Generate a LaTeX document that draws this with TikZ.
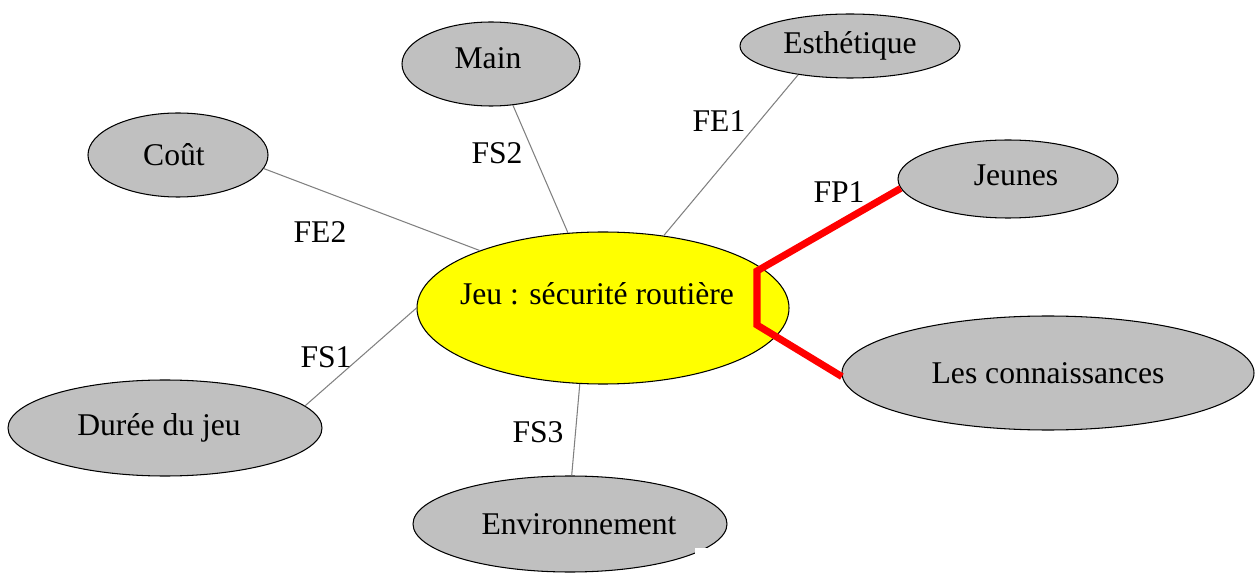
\documentclass[tikz,border=0pt]{standalone}
\usepackage{fontspec}
\setmainfont{Liberation Serif}
\usetikzlibrary{shapes.geometric}
\definecolor{bubble}{RGB}{192,192,192}
\definecolor{hub}{RGB}{255,255,0}
\definecolor{link}{RGB}{128,128,128}
\definecolor{mainlink}{RGB}{255,0,0}
% offset a text inside its ellipse without changing the ellipse size
\newcommand\nudge[3]{\raisebox{#2}[\height][\depth]{\makebox[0pt]{\hspace*{#1}#3\hspace*{-#1}}}}
\tikzset{
  bubble/.style={ellipse, draw=black, line width=0.6pt, fill=bubble, inner sep=0pt,
    font=\fontsize{18pt}{20pt}\selectfont},
  hubnode/.style={bubble, fill=hub},
  tag/.style={font=\fontsize{18pt}{20pt}\selectfont, inner sep=0pt},
  link/.style={draw=link, line width=0.6pt},
  mainlink/.style={draw=mainlink, line width=4pt}
}
\begin{document}
\begin{tikzpicture}[x=0.02cm, y=-0.02cm]
\useasboundingbox (0,0) rectangle (1255,574);

% central function and surrounding elements
\node[hubnode, minimum width=372*0.02cm, minimum height=152*0.02cm] (jeu) at (603,308) {\nudge{-0.12cm}{0.28cm}{Jeu : sécurité routière}};
\node[bubble, minimum width=178*0.02cm, minimum height=84*0.02cm] (main) at (491,64) {\nudge{-0.06cm}{0.12cm}{Main}};
\node[bubble, minimum width=220*0.02cm, minimum height=64*0.02cm] (esth) at (850,46) {Esthétique};
\node[bubble, minimum width=180*0.02cm, minimum height=84*0.02cm] (cout) at (178,155) {\nudge{-0.08cm}{0cm}{Coût}};
\node[bubble, minimum width=220*0.02cm, minimum height=78*0.02cm] (jeunes) at (1008,179) {\nudge{0.16cm}{0.08cm}{Jeunes}};
\node[bubble, minimum width=412*0.02cm, minimum height=114*0.02cm] (conn) at (1048,373) {Les connaissances};
\node[bubble, minimum width=314*0.02cm, minimum height=96*0.02cm] (duree) at (165,428) {\nudge{-0.12cm}{0cm}{Durée du jeu}};
\node[bubble, minimum width=314*0.02cm, minimum height=96*0.02cm] (env) at (570,524) {\nudge{0.18cm}{0cm}{Environnement}};
\fill[white] (695,548) rectangle (707,574);

% secondary links
\draw[link] (main.-62) -- (jeu.115);
\draw[link] (esth.209) -- (jeu.50);
\draw[link] (cout.-9) -- (jeu.155);
\draw[link] (duree.9) -- (jeu.180);
\draw[link] (env.88) -- (jeu.253);

% principal function
\coordinate (k1) at (757,271);
\coordinate (k2) at (757,325);
\draw[mainlink] (jeunes.185) -- (k1) -- (k2) -- (conn.181);

% function labels
\node[tag] (fs2) at (497,153) {FS2};
\node[tag] (fe1) at (719,121) {FE1};
\node[tag] (fe2) at (320,232) {FE2};
\node[tag] (fp1) at (839,192) {FP1};
\node[tag] (fs1) at (326,357) {FS1};
\node[tag] (fs3) at (538,432) {FS3};
\end{tikzpicture}
\end{document}
